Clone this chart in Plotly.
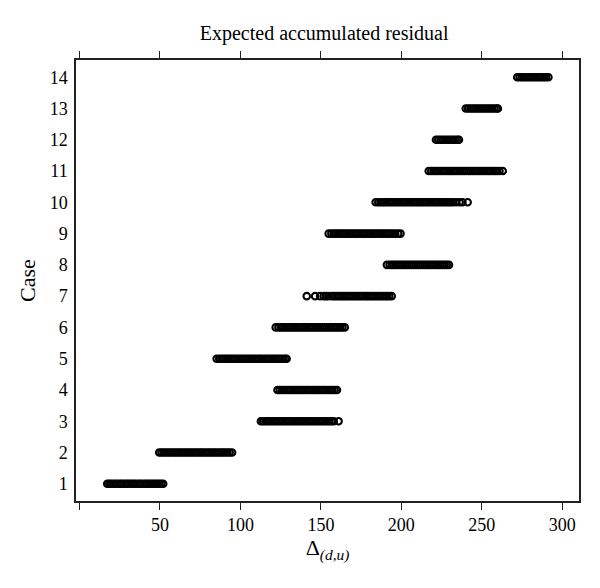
import plotly.graph_objects as go

# Delta_(d,u) values per case
case_labels = list(range(1, 15))

case1 = [17.2, 18.5, 19.6, 21.0, 22.3, 23.5, 24.9, 26.1, 27.4, 28.8, 30.0, 31.3, 32.7, 33.9,
         35.2, 36.6, 37.8, 39.1, 40.5, 41.7, 43.0, 44.4, 45.6, 46.9, 48.3, 49.5, 50.8, 52.0]
case2 = [49.5, 50.9, 52.2, 53.6, 55.0, 56.3, 57.7, 59.1, 60.4, 61.8, 63.2, 64.5, 65.9, 67.3,
         68.6, 70.0, 71.4, 72.7, 74.1, 75.5, 76.8, 78.2, 79.6, 80.9, 82.3, 83.7, 85.0, 86.4,
         87.8, 89.1, 90.5, 91.9, 93.3, 94.8]
case3 = [112.7, 114.1, 115.5, 116.8, 118.2, 119.6, 121.0, 122.3, 123.7, 125.1, 126.4, 127.8,
         129.2, 130.6, 131.9, 133.3, 134.7, 136.0, 137.4, 138.8, 140.2, 141.5, 142.9, 144.3,
         145.6, 147.0, 148.4, 149.8, 151.1, 152.5, 153.9, 155.2, 156.6, 158.0, 161.0]
case4 = [123.0, 124.4, 125.8, 127.1, 128.5, 129.9, 131.2, 132.6, 134.0, 135.3, 136.7, 138.1,
         139.4, 140.8, 142.2, 143.5, 144.9, 146.3, 147.6, 149.0, 150.4, 151.7, 153.1, 154.5,
         155.8, 157.2, 158.6, 160.0]
case5 = [85.2, 86.8, 88.1, 89.5, 90.9, 92.2, 93.6, 95.0, 96.3, 97.7, 99.1, 100.4, 101.8, 103.2,
         104.5, 105.9, 107.3, 108.6, 110.0, 111.4, 112.7, 114.1, 115.5, 116.8, 118.2, 119.6,
         120.9, 122.3, 123.7, 125.0, 126.4, 127.8, 128.7]
case6 = [121.9, 123.6, 125.0, 126.4, 127.7, 129.1, 130.5, 131.8, 133.2, 134.6, 135.9, 137.3,
         138.7, 140.0, 141.4, 142.8, 144.1, 145.5, 146.9, 148.2, 149.6, 151.0, 152.3, 153.7,
         155.1, 156.4, 157.8, 159.2, 160.5, 161.9, 163.3, 164.8]
case7 = [141.2, 146.4, 149.5, 151.8, 153.2, 154.6, 156.8, 158.2, 159.6, 161.0, 162.3, 163.7,
         165.1, 166.4, 167.8, 169.2, 170.5, 171.9, 173.3, 174.6, 176.0, 177.4, 178.7, 180.1,
         181.5, 182.8, 184.2, 185.6, 186.9, 188.3, 189.7, 191.0, 192.4, 194.0]
case8 = [191.0, 192.7, 194.1, 195.4, 196.8, 198.2, 199.5, 200.9, 202.3, 203.6, 205.0, 206.4,
         207.7, 209.1, 210.5, 211.8, 213.2, 214.6, 215.9, 217.3, 218.7, 220.0, 221.4, 222.8,
         224.1, 225.5, 226.9, 228.2, 229.6]
case9 = [154.8, 156.5, 157.9, 159.3, 160.6, 162.0, 163.4, 164.7, 166.1, 167.5, 168.8, 170.2,
         171.6, 172.9, 174.3, 175.7, 177.0, 178.4, 179.8, 181.1, 182.5, 183.9, 185.2, 186.6,
         188.0, 189.3, 190.7, 192.1, 193.4, 194.8, 196.2, 198.0, 199.5]
case10 = [184.0, 185.6, 187.0, 188.4, 189.7, 191.1, 192.5, 193.8, 195.2, 196.6, 197.9, 199.3,
          200.7, 202.0, 203.4, 204.8, 206.1, 207.5, 208.9, 210.2, 211.6, 213.0, 214.3, 215.7,
          217.1, 218.4, 219.8, 221.2, 222.5, 223.9, 225.3, 226.6, 228.0, 229.4, 230.7, 232.1,
          234.0, 236.2, 238.0, 241.2]
case11 = [217.0, 218.6, 220.0, 221.4, 222.7, 224.1, 225.5, 226.8, 228.2, 229.6, 230.9, 232.3,
          233.7, 235.0, 236.4, 237.8, 239.1, 240.5, 241.9, 243.2, 244.6, 246.0, 247.3, 248.7,
          250.1, 251.4, 252.8, 254.2, 255.5, 256.9, 258.3, 259.6, 261.0, 263.0]
case12 = [221.5, 222.9, 224.3, 225.6, 227.0, 228.4, 229.7, 231.1, 232.5, 233.8, 235.2, 235.8]
case13 = [240.0, 241.5, 242.9, 244.3, 245.6, 247.0, 248.4, 249.7, 251.1, 252.5, 253.8, 255.2,
          256.6, 257.9, 259.3, 260.0]
case14 = [272.0, 273.5, 274.9, 276.3, 277.6, 279.0, 280.4, 281.7, 283.1, 284.5, 285.8, 287.2,
          288.6, 289.9, 291.4]

cases = [case1, case2, case3, case4, case5, case6, case7,
         case8, case9, case10, case11, case12, case13, case14]

x_ticks = [0, 50, 100, 150, 200, 250, 300]
x_ticktext = ["", "50", "100", "150", "200", "250", "300"]

xs, ys = [], []
for k, vals in zip(case_labels, cases):
    xs += vals
    ys += [k] * len(vals)

fig = go.Figure(go.Scatter(
    x=xs, y=ys, mode="markers",
    marker=dict(symbol="circle-open", size=6.5, color="black", line=dict(width=2.1)),
    hoverinfo="x+y",
))

# page body adds an 8px margin, so the figure is 8px smaller and shifted
fig.update_layout(
    width=592, height=580,
    margin=dict(l=68, r=21, t=52, b=87),
    plot_bgcolor="white", paper_bgcolor="white",
    font=dict(family="Liberation Serif", size=18, color="black"),
    showlegend=False,
    title=dict(text="Expected accumulated residual", x=0.534, xanchor="center",
               y=1 - 25 / 580, yanchor="middle", font=dict(size=20)),
)

fig.update_xaxes(
    range=[-2.2, 310.4], tickvals=x_ticks, ticktext=x_ticktext,
    ticks="outside", ticklen=7, tickwidth=1, tickcolor="#222",
    showline=True, linecolor="#222", linewidth=1.5, mirror="ticks",
    showgrid=False, zeroline=False,
    title=dict(text="Δ<sub><i>(d,u)</i></sub>", standoff=4),
)
fig.update_yaxes(
    range=[0.45, 14.55], tickvals=case_labels,
    ticks="", showline=True, linecolor="#222", linewidth=1.5, mirror=True,
    showgrid=False, zeroline=False, ticklabelstandoff=3,
    title=dict(text="Case", standoff=8),
)

fig.write_html("out.html")
